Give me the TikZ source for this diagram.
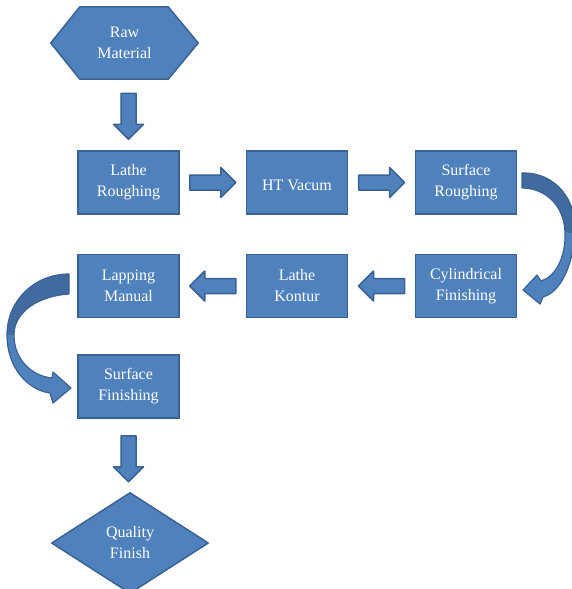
\documentclass[tikz,border=0pt]{standalone}
\usepackage{fontspec}
\setmainfont{Liberation Serif}
\usetikzlibrary{calc,backgrounds}
\definecolor{bfill}{HTML}{4F81BD}
\definecolor{bline}{HTML}{3A6294}
\definecolor{bdark}{HTML}{416B9E}
\newcommand\mytopstrut{\rule{0pt}{16pt}}
\begin{document}
\begin{tikzpicture}[x=1pt,y=-1pt,
  lbl/.style={text=white, align=center, font=\fontsize{16}{21}\selectfont, inner sep=0pt},
  lowlbl/.style={lbl, execute at begin node=\mytopstrut},
  box/.style={lowlbl, draw=bline, fill=bfill, line width=1.5pt, minimum width=101pt, minimum height=63pt},
  shp/.style={draw=bline, fill=bfill, line width=1.5pt, line join=round},
  darkpart/.style={fill=bdark},
  lightpart/.style={fill=bfill},
  outline/.style={draw=bline, line width=1.2pt, line join=round},
  barrow/.pic={\path[shp] (-23,-7.5) -- (8,-7.5) -- (8,-15) -- (23,0) -- (8,15) -- (8,7.5) -- (-23,7.5) -- cycle;}
]
\useasboundingbox (0,0) rectangle (572,589);

% nodes
\node[lbl, minimum width=147pt, minimum height=72pt] (raw) at (124.5,43) {Raw\\Material};
\node[box] (lr) at (128.5,182.5) {Lathe\\Roughing};
\node[box] (ht) at (297,182.5) {HT Vacum};
\node[box] (sr) at (466,182.5) {Surface\\Roughing};
\node[box] (cf) at (466,286) {Cylindrical\\Finishing};
\node[box] (lk) at (297,286) {Lathe\\Kontur};
\node[box] (lm) at (128.5,286) {Lapping\\Manual};
\node[box] (sf) at (128.5,386.5) {Surface\\Finishing};
\node[lowlbl, minimum width=156pt, minimum height=100pt] (qf) at (130,543) {Quality\\Finish};

\begin{scope}[on background layer]
  \fill[white] (0,0) rectangle (572,589);
  \path[shp] (raw.west) -- ($(raw.north west)+(29,0)$) -- ($(raw.north east)+(-30,0)$)
    -- (raw.east) -- ($(raw.south east)+(-30,0)$) -- ($(raw.south west)+(29,0)$) -- cycle;
  \path[shp] (qf.north) -- (qf.east) -- (qf.south) -- (qf.west) -- cycle;
\end{scope}

% straight block arrows
\pic[rotate=-90] at ($(lr.north)+(0,-34)$) {barrow};
\pic at ($(lr.east)!0.5!(ht.west)$) {barrow};
\pic at ($(ht.east)!0.5!(sr.west)$) {barrow};
\pic[rotate=180] at ($(cf.west)!0.5!(lk.east)$) {barrow};
\pic[rotate=180] at ($(lk.west)!0.5!(lm.east)$) {barrow};
\pic[rotate=-90] at ($(sf.south)+(0,40)$) {barrow};

% curved arrow: Surface Roughing -> Cylindrical Finishing
\fill[darkpart] (522,173) .. controls (555,172) and (578,200) .. (575,235) -- (565,232)
  .. controls (564,205) and (545,188) .. (522,188) -- cycle;
\fill[lightpart] (575,235) .. controls (572,268) and (560,292) .. (543,297) -- (540,304)
  -- (523,290) -- (537,275) -- (541,281) .. controls (555,277) and (566,258) .. (565,232) -- cycle;
\path[outline] (522,173) .. controls (555,172) and (578,200) .. (575,235)
  .. controls (572,268) and (560,292) .. (543,297) -- (540,304) -- (523,290) -- (537,275)
  -- (541,281) .. controls (555,277) and (566,258) .. (565,232)
  .. controls (564,205) and (545,188) .. (522,188) -- cycle;

% curved arrow: Lapping Manual -> Surface Finishing
\fill[darkpart] (69,274) .. controls (35,274) and (7,300) .. (7,335) -- (14,335)
  .. controls (14,312) and (38,296) .. (69,294) -- cycle;
\fill[lightpart] (7,335) .. controls (7,368) and (28,390) .. (50,393) -- (53,403) -- (71,388)
  -- (53,372) -- (52,378) .. controls (32,376) and (14,360) .. (14,335) -- cycle;
\path[outline] (69,274) .. controls (35,274) and (7,300) .. (7,335)
  .. controls (7,368) and (28,390) .. (50,393) -- (53,403) -- (71,388) -- (53,372) -- (52,378)
  .. controls (32,376) and (14,360) .. (14,335) .. controls (14,312) and (38,296) .. (69,294) -- cycle;
\end{tikzpicture}
\end{document}
